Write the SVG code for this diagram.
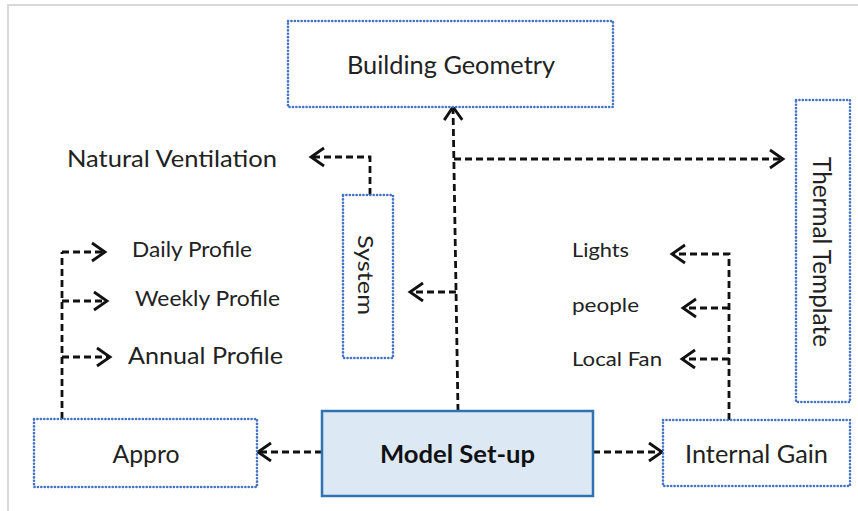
<svg xmlns="http://www.w3.org/2000/svg" width="858" height="511" viewBox="0 0 858 511">
  <defs>
    <marker id="chev" markerUnits="userSpaceOnUse" markerWidth="18" markerHeight="22" refX="14" refY="10" orient="auto" overflow="visible">
      <path d="M1,1 L14,10 L1,19" fill="none" stroke="#111" stroke-width="2.8" stroke-linejoin="miter"/>
    </marker>
  </defs>
  <style>
    .frame { fill: none; stroke: #d9d9d9; stroke-width: 2; }
    .dotbox { fill: #fff; stroke: #4472c4; stroke-width: 2.6; stroke-dasharray: 0.1 3.3; stroke-linecap: round; }
    .main { fill: #dde8f5; stroke: #2e74b5; stroke-width: 2.5; }
    .lbl { font-family: Lato, "Open Sans", "Liberation Sans", sans-serif; fill: #222; }
    .bold { font-weight: bold; fill: #111; }
    .link { fill: none; stroke: #111; stroke-width: 2.8; stroke-dasharray: 7 4; }
    .arrow { marker-end: url(#chev); }
  </style>

  <!-- page frame -->
  <path class="frame" d="M8,511 L8,5 L858,5"/>

  <!-- connectors -->
  <g id="connectors">
    <path class="link arrow" d="M458,411 L453,107"/>
    <path class="link arrow" d="M454,159 L783,159"/>
    <path class="link arrow" d="M456,292 L410,292"/>
    <path class="link arrow" d="M370,195 L370,157 L311,157"/>
    <path class="link" d="M62,419 L62,252"/>
    <path class="link arrow" d="M62,252 L105,252"/>
    <path class="link arrow" d="M62,301 L107,301"/>
    <path class="link arrow" d="M62,357 L110,357"/>
    <path class="link arrow" d="M322,452 L258,452"/>
    <path class="link arrow" d="M593,452 L662,452"/>
    <path class="link arrow" d="M729,420 L729,254 L672,254"/>
    <path class="link arrow" d="M729,308 L683,308"/>
    <path class="link arrow" d="M729,359 L682,359"/>
  </g>

  <!-- nodes -->
  <g id="building-geometry">
    <rect class="dotbox" x="288" y="21" width="325" height="86"/>
    <text class="lbl" x="451" y="74" font-size="25" text-anchor="middle" textLength="208" lengthAdjust="spacingAndGlyphs">Building Geometry</text>
  </g>

  <g id="natural-ventilation">
    <text class="lbl" x="67" y="167" font-size="23.5" textLength="210" lengthAdjust="spacingAndGlyphs">Natural Ventilation</text>
  </g>

  <g id="system">
    <rect class="dotbox" x="343" y="195" width="50" height="163"/>
    <text class="lbl" transform="translate(365.5,275) rotate(90)" x="0" y="7.5" font-size="21" text-anchor="middle" textLength="80" lengthAdjust="spacingAndGlyphs">System</text>
  </g>

  <g id="thermal-template">
    <rect class="dotbox" x="796" y="100" width="54" height="302"/>
    <text class="lbl" transform="translate(822,252) rotate(90)" x="0" y="9" font-size="25" text-anchor="middle" textLength="190" lengthAdjust="spacingAndGlyphs">Thermal Template</text>
  </g>

  <g id="daily-profile">
    <text class="lbl" x="132" y="257" font-size="21" textLength="120" lengthAdjust="spacingAndGlyphs">Daily Profile</text>
  </g>
  <g id="weekly-profile">
    <text class="lbl" x="135" y="306" font-size="20.5" textLength="145" lengthAdjust="spacingAndGlyphs">Weekly Profile</text>
  </g>
  <g id="annual-profile">
    <text class="lbl" x="128" y="364" font-size="23" textLength="155" lengthAdjust="spacingAndGlyphs">Annual Profile</text>
  </g>

  <g id="lights">
    <text class="lbl" x="572" y="257" font-size="19.5" textLength="57" lengthAdjust="spacingAndGlyphs">Lights</text>
  </g>
  <g id="people">
    <text class="lbl" x="572" y="312" font-size="19.5" textLength="67" lengthAdjust="spacingAndGlyphs">people</text>
  </g>
  <g id="local-fan">
    <text class="lbl" x="572" y="366" font-size="19.5" textLength="90" lengthAdjust="spacingAndGlyphs">Local Fan</text>
  </g>

  <g id="appro">
    <rect class="dotbox" x="34" y="419" width="223" height="68"/>
    <text class="lbl" x="146" y="463" font-size="24.5" text-anchor="middle" textLength="67" lengthAdjust="spacingAndGlyphs">Appro</text>
  </g>

  <g id="model-setup">
    <rect class="main" x="322" y="411" width="271" height="85"/>
    <text class="lbl bold" x="457.5" y="463" font-size="24.5" text-anchor="middle" textLength="155" lengthAdjust="spacingAndGlyphs">Model Set-up</text>
  </g>

  <g id="internal-gain">
    <rect class="dotbox" x="663" y="420" width="187" height="66"/>
    <text class="lbl" x="756.5" y="463" font-size="24.5" text-anchor="middle" textLength="143" lengthAdjust="spacingAndGlyphs">Internal Gain</text>
  </g>
</svg>
